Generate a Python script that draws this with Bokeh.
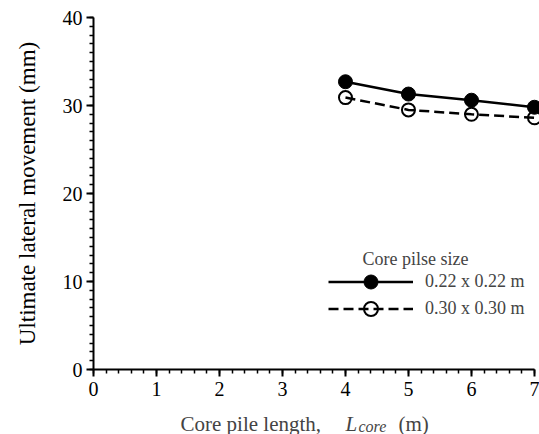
import numpy as np
from bokeh.plotting import figure
from bokeh.layouts import column
from bokeh.models import Range1d, Label, Legend, LegendItem, FixedTicker
from bokeh.embed import file_html
from bokeh.resources import INLINE

# ---- data ----
core_length = [4, 5, 6, 7]
move_022 = [32.7, 31.3, 30.6, 29.8]
move_030 = [30.9, 29.5, 29.0, 28.6]
series_labels = ["0.22 x 0.22 m", "0.30 x 0.30 m"]
legend_title = "Core pilse size"
x_ticks = [0, 1, 2, 3, 4, 5, 6, 7]
y_ticks = [0, 10, 20, 30, 40]
y_label = "Ultimate lateral movement (mm)"
x_label_parts = ["Core pile length,", "L", "core", "(m)"]

FONT = "Liberation Serif"

p = figure(width=539, height=404, output_backend="svg", toolbar_location=None,
           x_range=Range1d(0, 7.08), y_range=Range1d(0, 40),
           min_border_left=93, min_border_right=0, min_border_top=17, min_border_bottom=35)
p.outline_line_color = None
p.xgrid.visible = False
p.ygrid.visible = False

for ax, ticks, minors, bounds, standoff in [
    (p.xaxis[0], x_ticks, list(np.round(np.arange(0, 7.001, 0.2), 2)), (0, 7), 5),
    (p.yaxis[0], y_ticks, list(range(0, 41)), (0, 40), 4),
]:
    ax.ticker = FixedTicker(ticks=ticks, minor_ticks=minors)
    ax.bounds = bounds
    ax.axis_line_width = 2
    ax.axis_line_color = "black"
    ax.major_tick_line_width = 2
    ax.major_tick_line_color = "black"
    ax.minor_tick_line_width = 1.5
    ax.minor_tick_line_color = "black"
    ax.major_tick_in = 0
    ax.major_tick_out = 7
    ax.minor_tick_in = 0
    ax.minor_tick_out = 4
    ax.major_label_text_font = FONT
    ax.major_label_text_font_size = "20px"
    ax.major_label_text_color = "black"
    ax.major_label_standoff = standoff
p.xaxis.major_label_text_line_height = 1.0

p.yaxis.axis_label = y_label
p.yaxis.axis_label_text_font = FONT
p.yaxis.axis_label_text_font_size = "23px"
p.yaxis.axis_label_text_font_style = "normal"
p.yaxis.axis_label_text_color = "black"
p.yaxis.axis_label_standoff = 20

l1 = p.line(core_length, move_022, line_width=2.5, line_color="black")
s1 = p.scatter(core_length, move_022, size=14, marker="circle",
               fill_color="black", line_color="black")
l2 = p.line(core_length, move_030, line_width=2.5, line_color="black", line_dash="10 5")
s2 = p.scatter(core_length, move_030, size=13, marker="circle",
               fill_color=None, line_color="black", line_width=2)

for label, rends, loc in [(series_labels[0], [l1, s1], (235, 70)),
                          (series_labels[1], [l2, s2], (235, 43))]:
    lg = Legend(items=[LegendItem(label=label, renderers=rends)],
                location=loc, border_line_color=None, background_fill_alpha=0,
                glyph_width=85, glyph_height=35, label_height=20, spacing=0,
                padding=0, margin=0, label_standoff=12,
                label_text_font=FONT, label_text_font_size="18px")
    p.add_layout(lg)

p.add_layout(Label(x=269, y=111, x_units="screen", y_units="screen", text=legend_title,
                   text_font=FONT, text_font_size="18px", text_baseline="alphabetic"))

# x-axis title strip (italic subscript), drawn in a borderless strip below the plot;
# its frame is aligned with the main plot's frame (page x 93..539)
q = figure(width=539, height=30, output_backend="svg", toolbar_location=None,
           x_range=Range1d(93, 539), y_range=Range1d(0, 30),
           x_axis_location=None, y_axis_location=None,
           min_border=0, min_border_left=0, min_border_right=0,
           min_border_top=0, min_border_bottom=0)
q.grid.visible = False
q.outline_line_color = None

parts = [(x_label_parts[0], 180, 11, "21px", "normal"),
         (x_label_parts[1], 345, 11, "21px", "italic"),
         (x_label_parts[2], 358, 8, "16px", "italic"),
         (x_label_parts[3], 398, 11, "21px", "normal")]
for txt, x, y, fs, st in parts:
    q.add_layout(Label(x=x, y=y, text=txt,
                       text_font=FONT, text_font_size=fs, text_font_style=st,
                       text_baseline="alphabetic", text_align="left"))

layout = column(p, q, spacing=0)
open("out.html", "w").write(file_html(layout, INLINE))
